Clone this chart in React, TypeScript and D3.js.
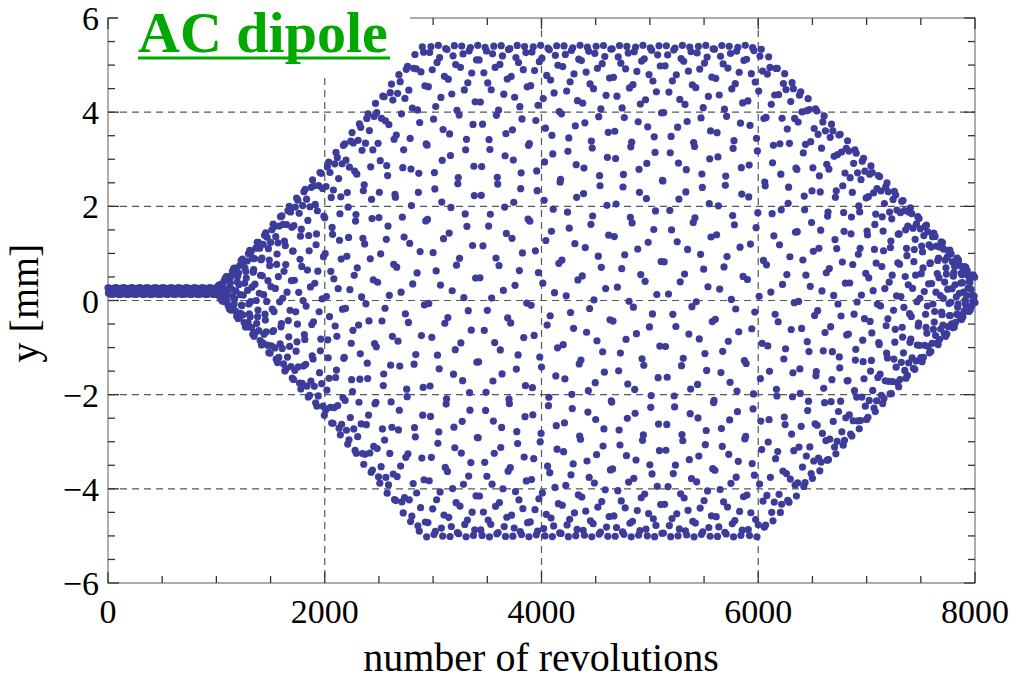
import React, { useMemo } from 'react';
import * as d3 from 'd3';

// Axis ticks and grid positions
const xTicks = [0, 2000, 4000, 6000, 8000];
const xMinorStep = 500;
const yTicks = [-6, -4, -2, 0, 2, 4, 6];
const yMinorStep = 0.5;
const gridX = [2000, 4000, 6000];
const gridY = [-4, -2, 0, 2, 4];

// AC dipole excitation: driven-oscillation amplitude envelope (turn -> mm)
const rampTurns = [0, 1000, 2000, 2900, 6000, 8000];
const rampAmplitude = [0.07, 0.07, 2.65, 5.22, 5.22, 0.3];
const closedOrbit = 0.2; // mm
const driveTune = 0.337925;
const recordEvery = 4; // turns between recorded BPM readings

const W = 1010;
const H = 681;
const plot = { left: 108, right: 975, top: 18, bottom: 583 };
const serif = '"Liberation Serif", "Times New Roman", serif';

export default function App() {
  const x = d3.scaleLinear().domain([0, 8000]).range([plot.left, plot.right]);
  const y = d3.scaleLinear().domain([-6, 6]).range([plot.bottom, plot.top]);
  const envelope = d3.scaleLinear().domain(rampTurns).range(rampAmplitude).clamp(true);

  const points = useMemo(() => {
    const pts: { n: number; v: number }[] = [];
    for (let n = 0; n <= 8000; n += recordEvery) {
      const a = envelope(n);
      pts.push({ n, v: closedOrbit + a * Math.cos(2 * Math.PI * driveTune * n) });
    }
    return pts;
  }, []);

  const xMinor = d3.range(0, 8000 + 1, xMinorStep);
  const yMinor = d3.range(-6, 6 + 0.001, yMinorStep);

  return (
    <svg width={W} height={H} style={{ position: 'absolute', left: 0, top: 0, background: '#fff' }}>
      {/* grid */}
      <g stroke="#3a3a3a" strokeWidth={1.2} strokeDasharray="7,5" opacity={0.85}>
        {gridX.map((t) => (
          <line key={'gx' + t} x1={x(t)} x2={x(t)} y1={plot.top} y2={plot.bottom} />
        ))}
        {gridY.map((t) => (
          <line key={'gy' + t} x1={plot.left} x2={plot.right} y1={y(t)} y2={y(t)} />
        ))}
      </g>

      {/* frame */}
      <rect
        x={plot.left}
        y={plot.top}
        width={plot.right - plot.left}
        height={plot.bottom - plot.top}
        fill="none"
        stroke="#808080"
        strokeWidth={1.3}
      />

      {/* frame ticks */}
      <g stroke="#333" strokeWidth={1.3}>
        {xMinor.map((t) => {
          const len = t % 2000 === 0 ? 11 : 7;
          return (
            <g key={'xt' + t}>
              <line x1={x(t)} x2={x(t)} y1={plot.bottom} y2={plot.bottom - len} />
              <line x1={x(t)} x2={x(t)} y1={plot.top} y2={plot.top + len} />
            </g>
          );
        })}
        {yMinor.map((t) => {
          const major = Math.abs(t % 2) < 1e-6;
          const len = major ? 11 : 7;
          return (
            <g key={'yt' + t}>
              <line x1={plot.left} x2={plot.left + len} y1={y(t)} y2={y(t)} />
              <line x1={plot.right} x2={plot.right - len} y1={y(t)} y2={y(t)} />
            </g>
          );
        })}
      </g>

      {/* title backing */}
      <rect x={118} y={0} width={292} height={75} fill="#fff" />

      {/* turn-by-turn readings */}
      <g fill="#3c3c9a">
        {points.map((p) => (
          <circle key={p.n} cx={x(p.n)} cy={y(p.v)} r={3.6} />
        ))}
      </g>

      {/* tick labels */}
      <g fontFamily={serif} fontSize={34} fill="#000">
        {xTicks.map((t) => (
          <text key={'xl' + t} x={x(t)} y={623} textAnchor="middle">
            {String(t)}
          </text>
        ))}
        {yTicks.map((t) => (
          <text key={'yl' + t} x={99} y={y(t) + 12} textAnchor="end">
            {t < 0 ? '\u2212' + Math.abs(t) : String(t)}
          </text>
        ))}
      </g>

      {/* axis titles */}
      <text x={541} y={671} textAnchor="middle" fontFamily={serif} fontSize={40} fill="#000">
        number of revolutions
      </text>
      <text
        transform="translate(38,303) rotate(-90)"
        textAnchor="middle"
        fontFamily={serif}
        fontSize={40}
        fill="#000"
      >
        y [mm]
      </text>

      {/* label */}
      <text x={138} y={52} fontFamily={serif} fontWeight="bold" fontSize={58} fill="#00a800">
        AC dipole
      </text>
      <rect x={138} y={56.5} width={252} height={3} fill="#00a800" />
    </svg>
  );
}
